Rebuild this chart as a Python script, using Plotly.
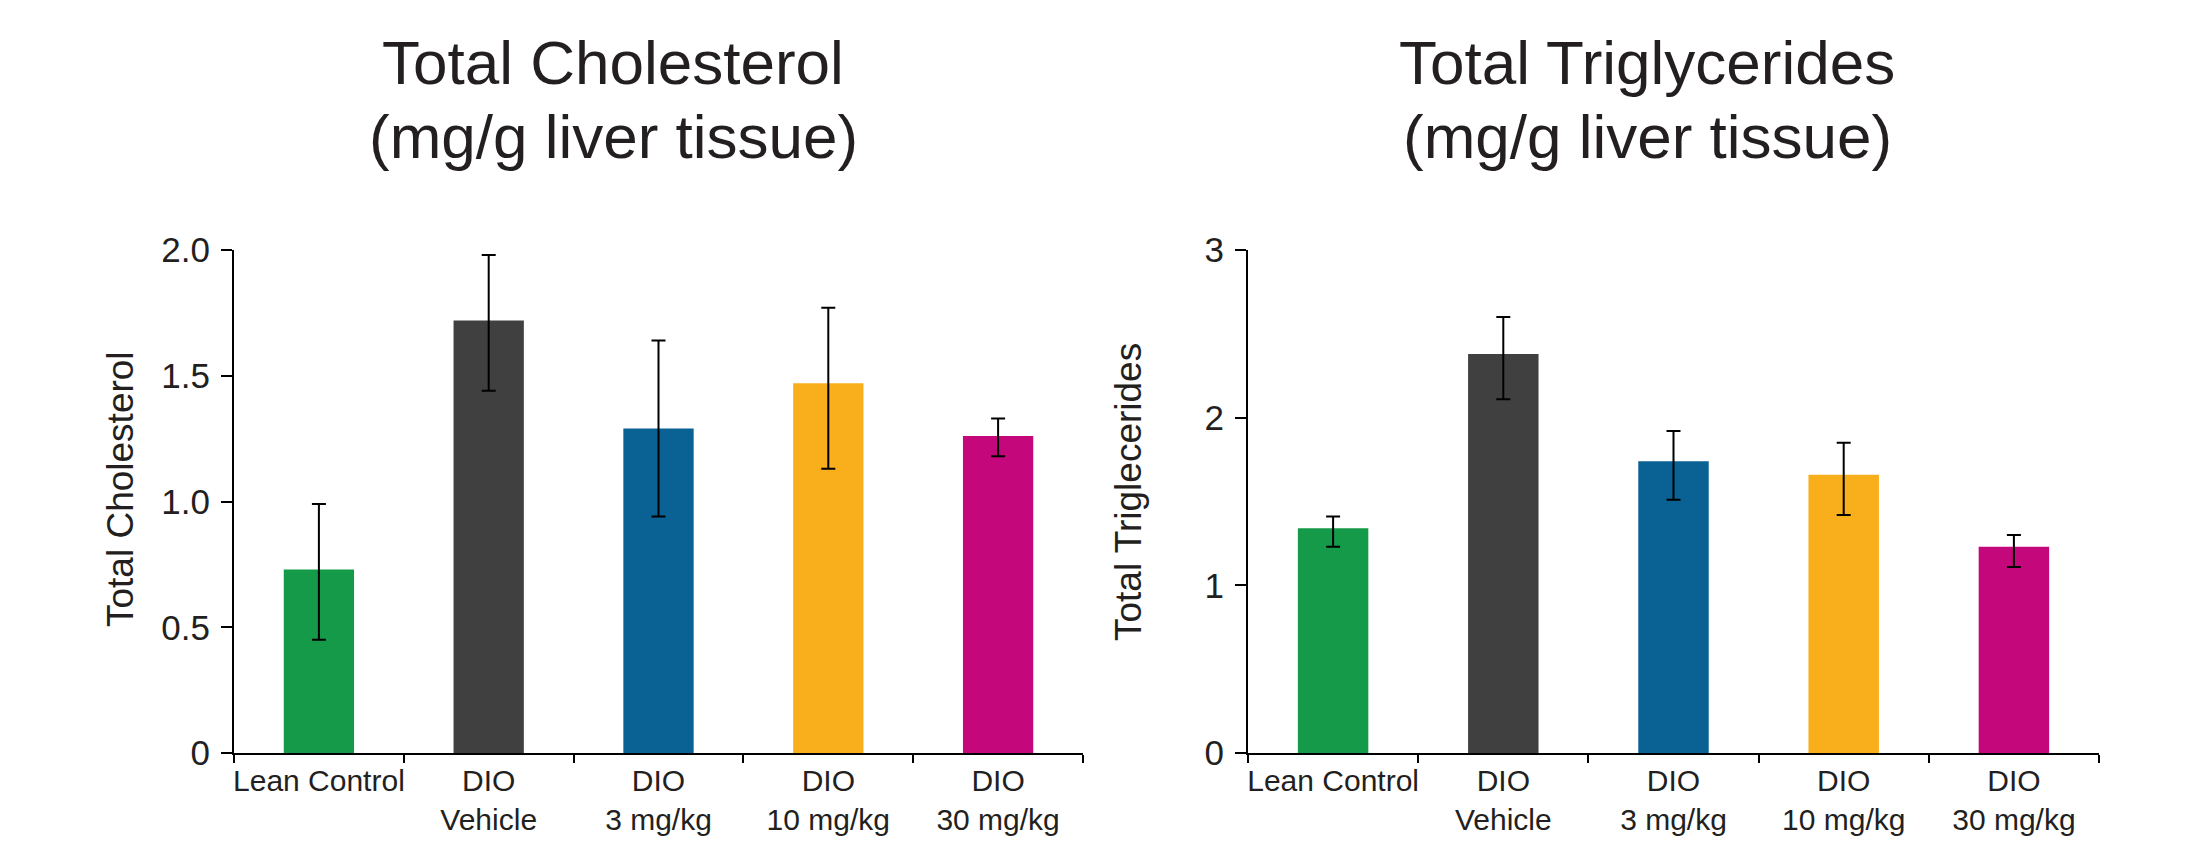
import plotly.graph_objects as go

W, H = 2203, 850

categories = ["Lean Control", "DIO<br>Vehicle", "DIO<br>3 mg/kg", "DIO<br>10 mg/kg", "DIO<br>30 mg/kg"]
colors = ["#149A48", "#404040", "#0A6194", "#F9AE1B", "#C4077B"]

chol_mean = [0.73, 1.72, 1.29, 1.47, 1.26]
chol_err_up = [0.26, 0.26, 0.35, 0.30, 0.07]
chol_err_down = [0.28, 0.28, 0.35, 0.34, 0.08]

trig_mean = [1.34, 2.38, 1.74, 1.66, 1.23]
trig_err_up = [0.07, 0.22, 0.18, 0.19, 0.07]
trig_err_down = [0.11, 0.27, 0.23, 0.24, 0.12]

chol_ticks = [0, 0.5, 1.0, 1.5, 2.0]
chol_ticktext = ["0", "0.5", "1.0", "1.5", "2.0"]
trig_ticks = [0, 1, 2, 3]
trig_ticktext = ["0", "1", "2", "3"]

FONT = "Liberation Sans, Arial, sans-serif"
TXT = "#231F20"

fig = go.Figure()

def add_bars(mean, up, down, xa, ya):
    fig.add_trace(go.Bar(
        x=categories, y=mean, xaxis=xa, yaxis=ya,
        marker=dict(color=colors, line=dict(width=0)),
        error_y=dict(type="data", symmetric=False, array=up, arrayminus=down,
                     color="#000000", thickness=2, width=7),
        showlegend=False,
    ))

add_bars(chol_mean, chol_err_up, chol_err_down, "x", "y")
add_bars(trig_mean, trig_err_up, trig_err_down, "x2", "y2")

def px_x(p):
    return p / W

def px_y(p):
    return 1 - p / H

ydom = [px_y(753), px_y(250)]

xaxis_common = dict(
    type="category", tickson="boundaries", ticks="outside", ticklen=8, tickwidth=2,
    tickcolor="#000", showline=True, linecolor="#000", linewidth=2, showgrid=False,
    zeroline=False, tickfont=dict(family=FONT, size=30, color=TXT), range=[-0.5, 4.5],
    tickangle=0, automargin=False, fixedrange=True,
)
yaxis_common = dict(
    ticks="outside", ticklen=11, tickwidth=2, tickcolor="#000", showline=True,
    linecolor="#000", linewidth=2, showgrid=False, zeroline=False,
    tickfont=dict(family=FONT, size=35, color=TXT), ticklabelstandoff=4,
    automargin=False,
)

fig.update_layout(
    width=W, height=H,
    margin=dict(l=0, r=0, t=0, b=0),
    paper_bgcolor="white", plot_bgcolor="white",
    bargap=0.586,
    xaxis=dict(domain=[px_x(234), px_x(1083)], anchor="y", **xaxis_common),
    yaxis=dict(domain=ydom, anchor="x", range=[0, 2.0], tickvals=chol_ticks,
               ticktext=chol_ticktext, **yaxis_common),
    xaxis2=dict(domain=[px_x(1248), px_x(2099)], anchor="y2", **xaxis_common),
    yaxis2=dict(domain=ydom, anchor="x2", range=[0, 3], tickvals=trig_ticks,
                ticktext=trig_ticktext, **yaxis_common),
)

annos = [
    ("Total Cholesterol", 613, 62, 62, 0),
    ("(mg/g liver tissue)", 613, 136, 62, 0),
    ("Total Triglycerides", 1647, 62, 62, 0),
    ("(mg/g liver tissue)", 1647, 136, 62, 0),
    ("Total Cholesterol", 120, 489, 37, -90),
    ("Total Triglecerides", 1128, 492, 37, -90),
]
for text, x, y, size, ang in annos:
    fig.add_annotation(
        text=text, xref="paper", yref="paper", x=px_x(x), y=px_y(y),
        xanchor="center", yanchor="middle", showarrow=False, textangle=ang,
        font=dict(family=FONT, size=size, color=TXT),
    )

fig.write_html("out.html", config={"displayModeBar": False})
